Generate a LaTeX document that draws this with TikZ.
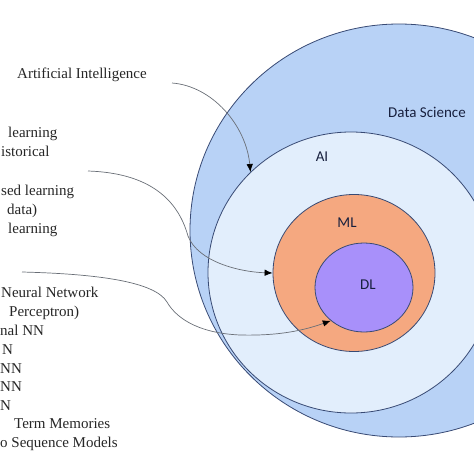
\documentclass[tikz,border=0pt]{standalone}
\usepackage{fontspec}
\setmainfont{Liberation Serif}
\newfontfamily\setlabelfont{Carlito}
\usetikzlibrary{shapes.geometric,arrows.meta}

\definecolor{dsblue}{RGB}{184,210,246}
\definecolor{aiblue}{RGB}{226,238,252}
\definecolor{mlorange}{RGB}{245,168,128}
\definecolor{dlpurple}{RGB}{168,144,250}
\definecolor{rim}{RGB}{56,74,116}
\definecolor{labelnavy}{RGB}{24,32,62}
\definecolor{wire}{RGB}{105,110,118}

\tikzset{
  set/.style={ellipse, draw=rim, line width=0.8pt, inner sep=0pt},
  setname/.style={font=\setlabelfont\fontsize{15}{18}\selectfont, text=labelnavy},
  note/.style={font=\fontsize{15}{19}\selectfont, anchor=base west,
    inner sep=0pt, text=black!85},
  pointer/.style={->, draw=wire, line width=0.7pt},
}

\begin{document}
\begin{tikzpicture}[x=1pt, y=-1pt, >={Latex[length=8pt,width=6.5pt,color=black]}]
  \useasboundingbox (0,0) rectangle (474,474);
  \clip (0,0) rectangle (474,474);
  % Nested sets, outermost first.
  \node[set, fill=dsblue, minimum width=418pt, minimum height=413pt] (ds) at (399,230.5) {};
  \node[set, fill=aiblue, minimum width=286pt, minimum height=281pt] (ai) at (351,272.5) {};
  \node[set, fill=mlorange, minimum width=162pt, minimum height=157pt] (ml) at (354,273) {};
  \node[set, fill=dlpurple, minimum width=98pt, minimum height=89pt] (dl) at (364,287.5) {};
  % Set names.
  \node[setname] (dsname) at (427,112) {Data Science};
  \node[setname] (ainame) at (322,157) {AI};
  \node[setname] (mlname) at (347,223) {ML};
  \node[setname] (dlname) at (368,285) {DL};
  % Notes on the left (cut off by the frame).
  \node[note] (ainote) at (17,78) {Artificial Intelligence};
  \foreach \txt/\xx/\yy in {learning/8/137, istorical/1/156, sed learning/1/195,
      data)/7/214, learning/8/233}
    \node[note] at (\xx,\yy) {\txt};
  \foreach \txt/\xx/\yy in {Neural Network/1/297, Perceptron)/9/316, nal NN/0/335,
      N/2/354, NN/0/373, NN/0/391, N/0/410, Term Memories/14/428,
      o Sequence Models/0/447}
    \node[note] at (\xx,\yy) {\txt};
  % Pointers from the notes into the sets.
  \coordinate (aifrom) at (172,83);
  \coordinate (mlfrom) at (88,171);
  \coordinate (dlfrom) at (22,272);
  \draw[pointer] (aifrom) .. controls (212,86) and (246,125) .. (ai.135);
  \draw[pointer] (mlfrom) .. controls (150,173) and (178,200) .. (188,236)
    .. controls (198,262) and (240,272) .. (ml.west);
  \draw[pointer] (dlfrom) .. controls (100,274) and (155,282) .. (167,302)
    .. controls (175,316) and (195,333) .. (240,335)
    .. controls (280,336) and (305,330) .. (dl.225);
\end{tikzpicture}
\end{document}
